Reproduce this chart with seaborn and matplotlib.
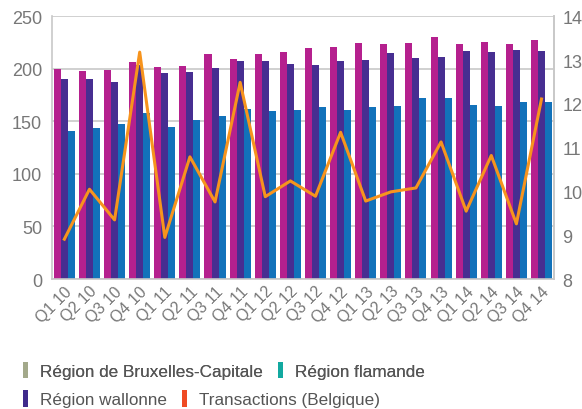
import numpy as np
import pandas as pd
import seaborn as sns
import matplotlib
matplotlib.use("Agg")
import matplotlib.pyplot as plt
from matplotlib.patches import Patch

# quarters
quarters = ["Q1 10", "Q2 10", "Q3 10", "Q4 10", "Q1 11", "Q2 11", "Q3 11", "Q4 11",
            "Q1 12", "Q2 12", "Q3 12", "Q4 12", "Q1 13", "Q2 13", "Q3 13", "Q4 13",
            "Q1 14", "Q2 14", "Q3 14", "Q4 14"]

# bar series (left axis)
bruxelles = [200, 198, 199, 206.5, 201.5, 202.5, 214, 209, 214, 216,
             219.5, 220.5, 224.3, 223.4, 224.3, 230, 223.4, 225.3, 223.4, 227]
wallonne = [190, 190, 187, 204, 196, 197, 200.5, 207, 207, 205,
            204, 207, 208, 215, 210, 211, 216.7, 216, 217.7, 216.7]
flamande = [140.7, 143.5, 147.3, 157.8, 144.5, 151, 155, 161.6, 159.7, 160.6,
            163.5, 160.6, 163.5, 164.5, 172, 172, 165.4, 164.5, 168.3, 168.3]

# line series (right axis)
transactions = [8.91, 10.05, 9.35, 13.18, 8.95, 10.79, 9.76, 12.49, 9.88, 10.24,
                9.89, 11.35, 9.78, 9.99, 10.08, 11.13, 9.55, 10.82, 9.26, 12.11]

series_names = ["Bruxelles", "Wallonne", "Flandre"]
bar_colors = ["#B5208E", "#472E91", "#1272BA"]

legend_labels = ["Région de Bruxelles-Capitale", "Région flamande",
                 "Région wallonne", "Transactions (Belgique)"]
legend_colors = ["#A3A98A", "#12A9A0", "#3F2A8C", "#EF4A23"]

df = pd.DataFrame({
    "quarter": quarters * 3,
    "serie": np.repeat(series_names, len(quarters)),
    "value": bruxelles + wallonne + flamande,
})

plt.rcParams["font.family"] = ["Liberation Sans", "DejaVu Sans"]
grey_txt = "#777777"
grid_c = "#c8c8c8"

fig = plt.figure(figsize=(5.82, 4.10), dpi=100)
ax = fig.add_axes([0.089, 0.317, 0.863, 0.641])

sns.barplot(data=df, x="quarter", y="value", hue="serie", palette=bar_colors,
            width=0.84, saturation=1, ax=ax, legend=False)
ax.set_ylim(0, 250)
ax.set_yticks(range(0, 251, 50))
ax.set_xlim(-0.5, len(quarters) - 0.5)
ax.set_axisbelow(True)
ax.yaxis.grid(True, color=grid_c, linewidth=1.2)
ax.set_xlabel("")
ax.set_ylabel("")
ax.spines["top"].set_visible(False)
for s in ["left", "right", "bottom"]:
    ax.spines[s].set_color(grid_c)
    ax.spines[s].set_linewidth(1.2)
ax.tick_params(axis="y", length=0, labelsize=13, labelcolor=grey_txt, pad=7)
ax.tick_params(axis="x", length=0, labelsize=11.5, labelcolor=grey_txt, pad=3)
plt.setp(ax.get_xticklabels(), rotation=45, ha="right", rotation_mode="anchor")

ax2 = ax.twinx()
sns.lineplot(x=np.arange(len(quarters)), y=transactions, color="#F7941D",
             linewidth=2.2, ax=ax2)
ax2.set_ylim(8, 14)
ax2.set_yticks(range(8, 15))
ax2.tick_params(axis="y", length=0, labelsize=13, labelcolor=grey_txt, pad=6)
for s in ["top", "left", "bottom"]:
    ax2.spines[s].set_visible(False)
ax2.spines["right"].set_color(grid_c)
ax2.spines["right"].set_linewidth(1.2)

handles = [Patch(facecolor=c, edgecolor="none") for c in legend_colors]
leg_kw = dict(ncol=2, frameon=False, fontsize=12.3, handlelength=0.3,
              handleheight=1.1, handletextpad=0.7, columnspacing=0.9,
              labelcolor="#555555", borderaxespad=0)
leg1 = fig.legend(handles[:2], legend_labels[:2], loc="center left",
                  bbox_to_anchor=(0.027, 0.095), **leg_kw)
fig.add_artist(leg1)
fig.legend(handles[2:], legend_labels[2:], loc="center left",
           bbox_to_anchor=(0.027, 0.025), **leg_kw)

fig.savefig("out.png", dpi=100)
